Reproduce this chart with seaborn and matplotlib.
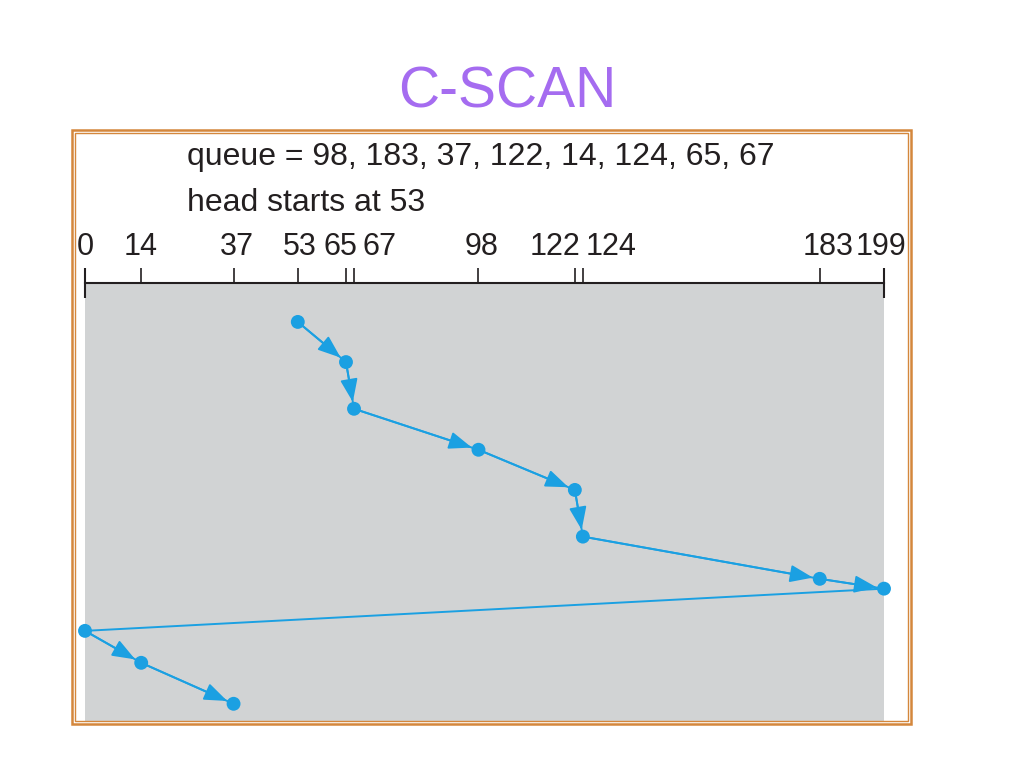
import numpy as np
import pandas as pd
import matplotlib
matplotlib.use("Agg")
import matplotlib.pyplot as plt
import matplotlib.transforms as mtransforms
from matplotlib.patches import Rectangle
from matplotlib.ticker import FixedLocator
import seaborn as sns

# request queue and head start
queue = [98, 183, 37, 122, 14, 124, 65, 67]
head_start = 53

# order the head visits cylinders (C-SCAN) and the vertical step
visit_cylinders = [53, 65, 67, 98, 122, 124, 183, 199, 0, 14, 37]
visit_steps = [0, 0.98, 2.12, 3.12, 4.10, 5.24, 6.27, 6.51, 7.54, 8.32, 9.32]

# ruler ticks
tick_values = [0, 14, 37, 53, 65, 67, 98, 122, 124, 183, 199]
end_ticks = [0, 199]
# segments drawn with an arrow head (the return sweep has none)
arrow_segments = [0, 1, 2, 3, 4, 5, 6, 8, 9]

title_color = "#a56cf0"
path_color = "#1ba0e2"
border_color = "#d4873c"
gray = "#d1d3d4"
text_color = "#231f20"

sns.set_theme(style="white")
plt.rcParams["font.family"] = ["Liberation Sans", "DejaVu Sans"]

df = pd.DataFrame({"cylinder": visit_cylinders, "step": visit_steps})

fig = plt.figure(figsize=(10.24, 7.68), dpi=100)
W, H = 1024, 768

# orange double frame
fig.patches.append(Rectangle((72 / W, 1 - 724 / H), 839 / W, 594 / H,
                             transform=fig.transFigure, fill=False,
                             edgecolor=border_color, linewidth=1.8))
fig.patches.append(Rectangle((75 / W, 1 - 721 / H), 833 / W, 588 / H,
                             transform=fig.transFigure, fill=False,
                             edgecolor=border_color, linewidth=1.0, zorder=0))

ax = fig.add_axes([85 / W, 1 - 721 / H, 799 / W, 438 / H])
ax.set_facecolor(gray)

sns.lineplot(data=df, x="cylinder", y="step", sort=False, estimator=None,
             color=path_color, linewidth=1.4, ax=ax)
sns.scatterplot(data=df, x="cylinder", y="step", color=path_color, s=100,
                edgecolor="none", zorder=5, clip_on=False, ax=ax)

for i in arrow_segments:
    ax.annotate("", xy=(visit_cylinders[i + 1], visit_steps[i + 1]),
                xytext=(visit_cylinders[i], visit_steps[i]),
                arrowprops=dict(arrowstyle="-|>,head_length=0.5,head_width=0.19",
                                color=path_color, lw=1.4,
                                mutation_scale=28, shrinkA=0, shrinkB=5))

ax.set_xlim(0, 199)
ax.set_ylim(9.74, -0.95)
ax.set_xlabel("")
ax.set_ylabel("")
ax.set_yticks([])

for side in ["left", "right", "bottom"]:
    ax.spines[side].set_visible(False)
ax.spines["top"].set_color(text_color)
ax.spines["top"].set_linewidth(1.5)

ax.xaxis.tick_top()
ax.set_xticks(tick_values)
ax.set_xticklabels([str(v) for v in tick_values])
ax.xaxis.set_minor_locator(FixedLocator(end_ticks))
ax.xaxis.remove_overlapping_locs = False
ax.tick_params(axis="x", which="major", direction="out", length=11, width=1.2,
               color=text_color, labelsize=22, labelcolor=text_color, pad=4,
               top=True, bottom=False)
ax.tick_params(axis="x", which="minor", direction="inout", length=22, width=1.5,
               color=text_color, top=True, bottom=False)

# nudge crowded labels apart (pixels)
label_shift = {14: -1, 37: 3, 53: 2, 65: -6, 67: 25, 98: 3, 122: -20, 124: 28,
               183: 8, 199: -3}
for lbl, v in zip(ax.get_xticklabels(), tick_values):
    dx = label_shift.get(v, 0)
    if dx:
        lbl.set_transform(lbl.get_transform() +
                          mtransforms.ScaledTranslation(dx / 100, 0, fig.dpi_scale_trans))

fig.text(507 / W, 1 - 93 / H, "C-SCAN", ha="center", va="center",
         fontsize=41, color=title_color)
fig.text(187 / W, 1 - 157 / H, "queue = " + ", ".join(str(q) for q in queue),
         ha="left", va="center", fontsize=23, color=text_color)
fig.text(187 / W, 1 - 203 / H, f"head starts at {head_start}",
         ha="left", va="center", fontsize=23, color=text_color)

fig.savefig("out.png", dpi=100)
